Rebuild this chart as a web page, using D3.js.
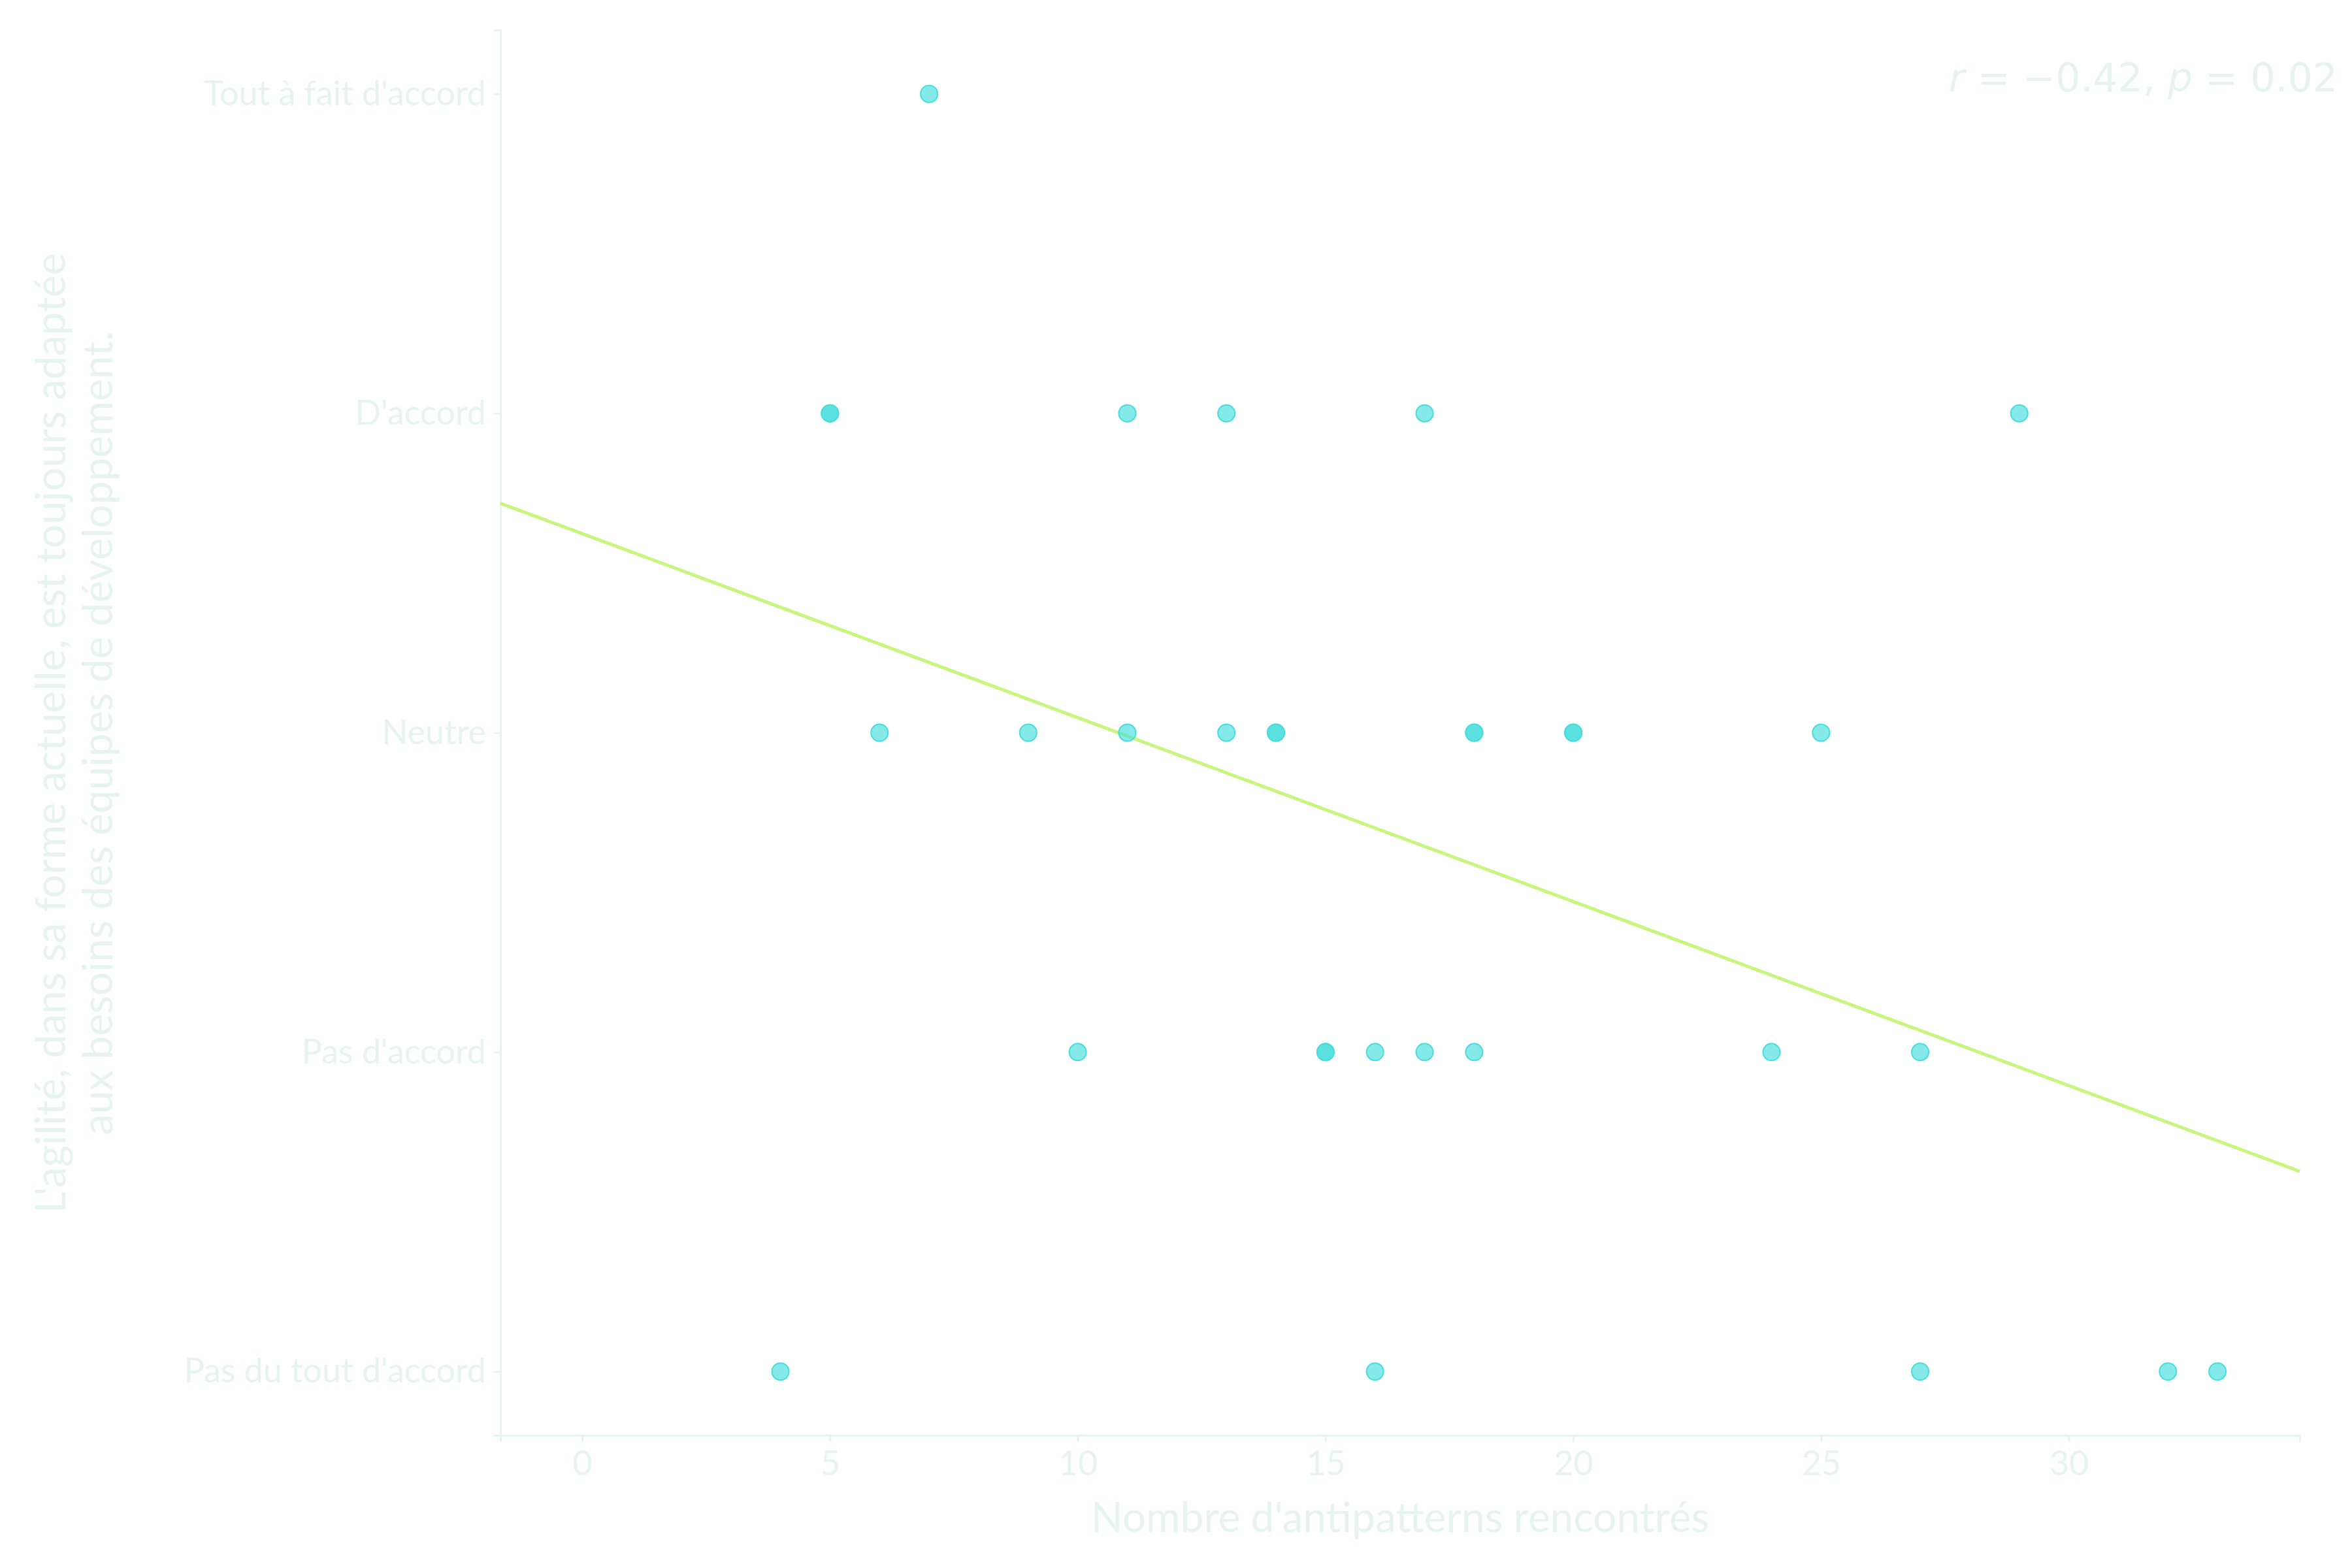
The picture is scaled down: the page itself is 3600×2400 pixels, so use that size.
<!DOCTYPE html>
<html>
<head>
<meta charset="utf-8">
<script src="https://cdn.jsdelivr.net/npm/d3@7"></script>
<style>
  body { margin: 0; background: #fff; }
  text { font-family: Lato, "Noto Sans", sans-serif; fill: #e6f4ef; }
</style>
</head>
<body>
<svg id="chart"></svg>
<script>
// Likert levels, bottom to top
var levels = ["Pas du tout d'accord", "Pas d'accord", "Neutre", "D'accord", "Tout à fait d'accord"];
// antipattern counts per answer level
var answers5 = [7];
var answers4 = [5, 5, 11, 13, 17, 29];
var answers3 = [6, 9, 11, 13, 14, 14, 18, 18, 20, 20, 25];
var answers2 = [10, 15, 15, 16, 17, 18, 24, 27];
var answers1 = [4, 16, 27, 32, 33];
var xTicks = [0, 5, 10, 15, 20, 25, 30];

var width = 3600, height = 2400;
var mLeft = 766, mRight = 3520, mTop = 46, mBottom = 2197;

// Flatten into points
var points = [];
[answers1, answers2, answers3, answers4, answers5].forEach((arr, i) => {
  arr.forEach(v => points.push({x: v, y: i + 1}));
});

var x = d3.scaleLinear().domain([-1.65, 34.66]).range([mLeft, mRight]);
var y = d3.scaleLinear().domain([0.8, 5.2]).range([mBottom, mTop]);

var svg = d3.select("#chart").attr("width", width).attr("height", height);

// Least squares fit
var mx = d3.mean(points, d => d.x), my = d3.mean(points, d => d.y);
var slope = d3.sum(points, d => (d.x - mx) * (d.y - my)) / d3.sum(points, d => (d.x - mx) * (d.x - mx));
var intercept = my - slope * mx;

// Axes
var xAxis = svg.append("g")
  .attr("transform", "translate(0," + mBottom + ")")
  .call(d3.axisBottom(x).tickValues(xTicks).tickSize(10).tickPadding(14));
var yAxis = svg.append("g")
  .attr("transform", "translate(" + mLeft + ",0)")
  .call(d3.axisLeft(y).tickValues([1, 2, 3, 4, 5]).tickFormat(d => levels[d - 1]).tickSize(10).tickPadding(12));
[xAxis, yAxis].forEach(a => {
  a.selectAll("path, line").attr("stroke", "#e6f4ef").attr("stroke-width", 3);
  a.selectAll("text").style("font-size", "52px").attr("fill", "#e6f4ef");
});

// Regression line
var dom = x.domain();
svg.append("line")
  .attr("x1", x(dom[0])).attr("y1", y(intercept + slope * dom[0]))
  .attr("x2", x(dom[1])).attr("y2", y(intercept + slope * dom[1]))
  .attr("stroke", "#c8f57c")
  .attr("stroke-width", 5);

// Points
svg.selectAll(".pt")
  .data(points)
  .enter()
  .append("circle")
    .attr("cx", d => x(d.x))
    .attr("cy", d => y(d.y))
    .attr("r", 13)
    .attr("fill", "#45dddd")
    .attr("fill-opacity", 0.65)
    .attr("stroke", "#45dddd")
    .attr("stroke-width", 2);

// Axis titles
svg.append("text")
  .attr("x", (mLeft + mRight) / 2).attr("y", 2345)
  .attr("text-anchor", "middle")
  .style("font-size", "64px")
  .text("Nombre d'antipatterns rencontrés");

var yt = svg.append("text")
  .attr("transform", "translate(100,1122) rotate(-90)")
  .attr("text-anchor", "middle")
  .style("font-size", "64px");
yt.append("tspan").attr("x", 0).attr("dy", 0).text("L'agilité, dans sa forme actuelle, est toujours adaptée");
yt.append("tspan").attr("x", 0).attr("dy", 72).text("aux besoins des équipes de développement.");

// Correlation annotation
var ann = svg.append("text")
  .attr("x", 3578).attr("y", 140)
  .attr("text-anchor", "end")
  .style("font-family", "'DejaVu Sans', sans-serif")
  .style("font-size", "60px");
ann.append("tspan").style("font-style", "italic").text("r");
ann.append("tspan").text(" = −0.42,  ");
ann.append("tspan").style("font-style", "italic").text("p");
ann.append("tspan").text(" = 0.02");
</script>
</body>
</html>
